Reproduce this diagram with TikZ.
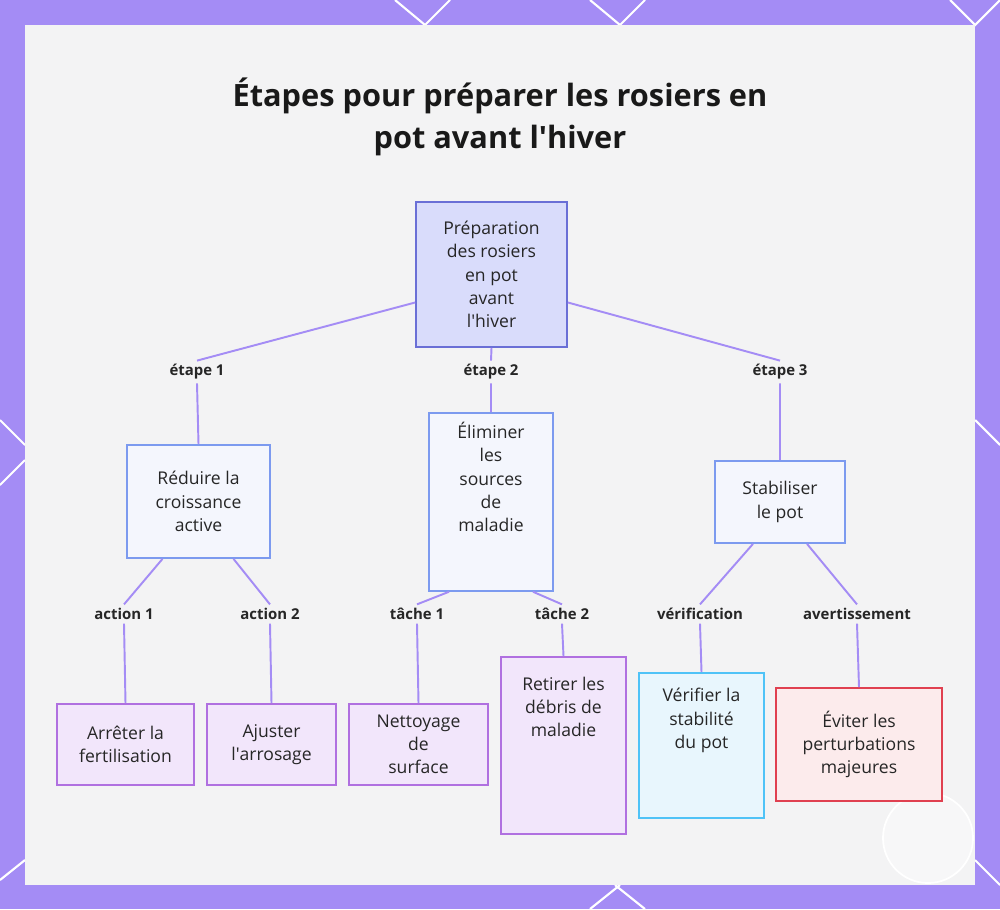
\documentclass[tikz,border=0pt]{standalone}
\usepackage{fontspec}
\setmainfont{Open Sans}
\usetikzlibrary{positioning,calc}
\definecolor{frame}{HTML}{A48CF5}
\definecolor{panel}{HTML}{F3F3F4}
\definecolor{rootfill}{HTML}{D9DCFB}
\definecolor{rootline}{HTML}{6A6FD6}
\definecolor{midfill}{HTML}{F4F6FD}
\definecolor{midline}{HTML}{7C9AEF}
\definecolor{leaffill}{HTML}{F2E6FB}
\definecolor{leafline}{HTML}{B070E0}
\definecolor{cyanfill}{HTML}{E8F6FD}
\definecolor{cyanline}{HTML}{4FC3F7}
\definecolor{redfill}{HTML}{FCEBEC}
\definecolor{redline}{HTML}{E04050}
\tikzset{
    box/.style args={#1 #2}{draw=#1, fill=#2, line width=1pt, align=center, font=\fontsize{10}{13.2}\selectfont, text=black!85, inner sep=0pt},
    lbl/.style={font=\bfseries\fontsize{8.5}{10}\selectfont, inner sep=2pt, text=black!85},
    link/.style={draw=frame, line width=1.1pt}
}
\begin{document}
\begin{tikzpicture}[x=0.02cm, y=-0.02cm]
    \useasboundingbox (0,0) rectangle (1000,909);
    % frame and panel
    \fill[frame] (0,0) rectangle (1000,909);
    \begin{scope}[white, line width=1.2pt]
    \clip (0,0) rectangle (1000,909);
    \draw (395,0) -- (425,25) (450,0) -- (420,30);
    \draw (590,0) -- (620,25) (645,0) -- (615,30);
    \draw (950,0) -- (975,25) (1000,0) -- (970,30);
    \draw (0,420) -- (25,445) (0,485) -- (25,460);
    \draw (975,420) -- (1000,445);
    \draw (0,880) -- (25,860) (975,860) -- (1000,885);
    \draw (590,909) -- (620,885) (645,909) -- (615,885);
    \end{scope}
    \fill[panel] (25,25) rectangle (975,885);
    \draw[white, line width=1pt, fill=white, fill opacity=0.4] (928,838) circle (45);
    % title
    \node[font=\bfseries\fontsize{17.5}{24}\selectfont, align=center, text=black!90] (title) at (500,117)
        {Étapes pour préparer les rosiers en\\pot avant l\textquotesingle hiver};
    % nodes
    \node[box={rootline rootfill}, minimum width=151*0.02cm, minimum height=145*0.02cm] (root) at (491.5,274.5)
        {Préparation\\des rosiers\\en pot\\avant\\l\textquotesingle hiver};
    \node[box={midline midfill}, minimum width=143*0.02cm, minimum height=113*0.02cm] (reduire) at (198.5,501.5)
        {Réduire la\\croissance\\active};
    \node[box={midline midfill}, minimum width=124*0.02cm, minimum height=178*0.02cm, anchor=north] (eliminer) at (491,412)
        {\\[-6pt]Éliminer\\les\\sources\\de\\maladie\\ \\ };
    \node[box={midline midfill}, minimum width=130*0.02cm, minimum height=82*0.02cm] (stab) at (780,502)
        {Stabiliser\\le pot};
    \node[box={leafline leaffill}, minimum width=137*0.02cm, minimum height=81*0.02cm] (arreter) at (125.5,744.5)
        {Arrêter la\\fertilisation};
    \node[box={leafline leaffill}, minimum width=129*0.02cm, minimum height=81*0.02cm] (ajuster) at (271.5,744.5)
        {Ajuster\\l\textquotesingle arrosage};
    \node[box={leafline leaffill}, minimum width=139*0.02cm, minimum height=81*0.02cm] (nettoyage) at (418.5,744.5)
        {Nettoyage\\de\\surface};
    \node[box={leafline leaffill}, minimum width=125*0.02cm, minimum height=177*0.02cm, anchor=north] (retirer) at (563.5,656)
        {\\[-10pt]Retirer les\\débris de\\maladie\\ \\ \\ };
    \node[box={cyanline cyanfill}, minimum width=125*0.02cm, minimum height=145*0.02cm, anchor=north] (verifier) at (701.5,672)
        {\\[-10pt]Vérifier la\\stabilité\\du pot\\ \\ };
    \node[box={redline redfill}, minimum width=166*0.02cm, minimum height=113*0.02cm] (eviter) at (859,744.5)
        {Éviter les\\perturbations\\majeures};
    % labels
    \node[lbl] (e1) at (197,372) {étape 1};
    \node[lbl] (e2) at (491,372) {étape 2};
    \node[lbl] (e3) at (780,372) {étape 3};
    \node[lbl] (a1) at (124,614) {action 1};
    \node[lbl] (a2) at (270,614) {action 2};
    \node[lbl] (t1) at (417,614) {tâche 1};
    \node[lbl] (t2) at (562,614) {tâche 2};
    \node[lbl] (v1) at (700,614) {vérification};
    \node[lbl] (v2) at (857,614) {avertissement};
    % connectors
    \draw[link] ([yshift=-28*0.02cm]root.west) -- (e1.north) (e1.south) -- (reduire.north);
    \draw[link] (root.south) -- (e2.north) (e2.south) -- (eliminer.north);
    \draw[link] ([yshift=-28*0.02cm]root.east) -- (e3.north) (e3.south) -- (stab.north);
    \draw[link] ([xshift=-36*0.02cm]reduire.south) -- (a1.north) (a1.south) -- (arreter.north);
    \draw[link] ([xshift=35*0.02cm]reduire.south) -- (a2.north) (a2.south) -- (ajuster.north);
    \draw[link] ([xshift=-42*0.02cm]eliminer.south) -- (t1.north) (t1.south) -- (nettoyage.north);
    \draw[link] ([xshift=42*0.02cm]eliminer.south) -- (t2.north) (t2.south) -- (retirer.north);
    \draw[link] ([xshift=-27*0.02cm]stab.south) -- (v1.north) (v1.south) -- (verifier.north);
    \draw[link] ([xshift=27*0.02cm]stab.south) -- (v2.north) (v2.south) -- (eviter.north);
\end{tikzpicture}
\end{document}
